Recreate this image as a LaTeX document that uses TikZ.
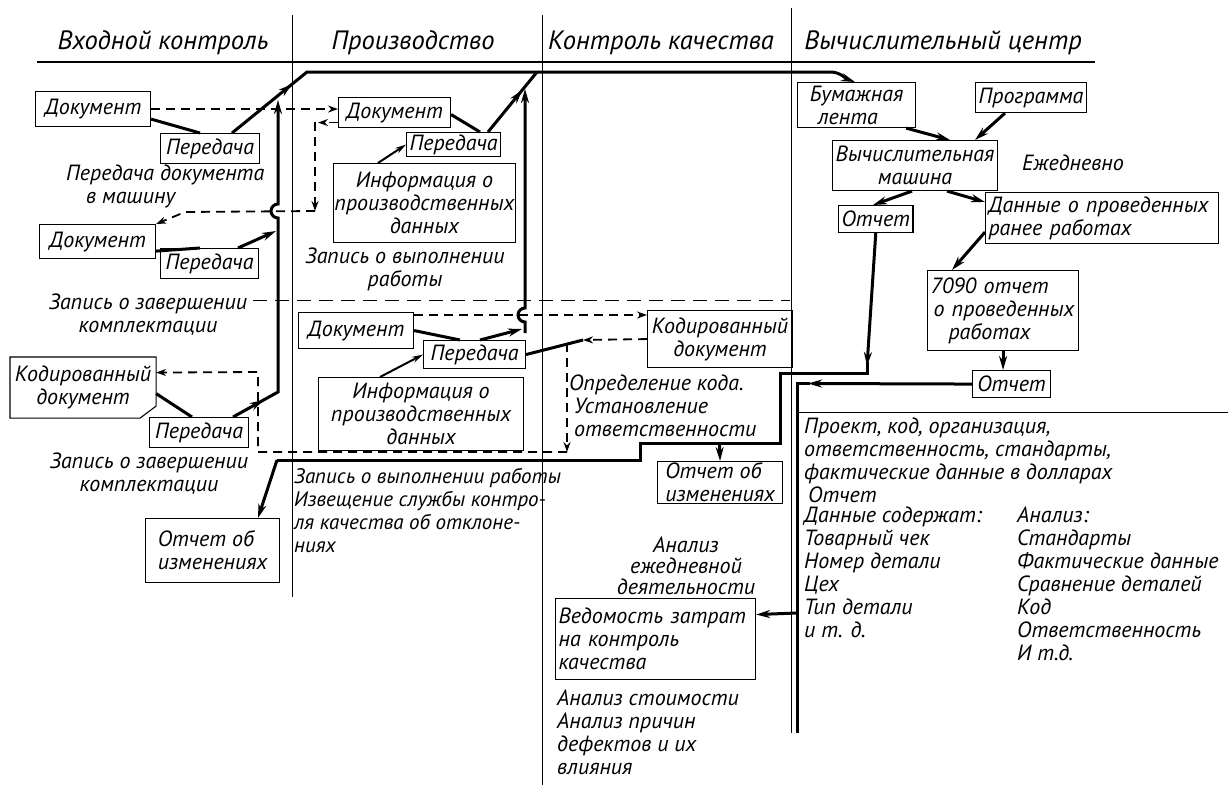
\documentclass[tikz,border=0pt]{standalone}
\usepackage{fontspec}
\setmainfont{PT Sans}
\usetikzlibrary{arrows.meta,calc,decorations.markings}
\newcommand{\bodyf}{\fontsize{22}{23}\selectfont\itshape}
\newcommand{\smallf}{\fontsize{21}{23}\selectfont\itshape}
\newcommand{\headf}{\fontsize{26.5}{28}\selectfont\itshape}
\tikzset{
  box/.style={draw, line width=1.1pt, inner xsep=3pt, inner ysep=1pt, font=\bodyf, align=center, anchor=north west},
  lbl/.style={inner sep=0pt, font=\bodyf, align=left},
  hd/.style={inner sep=0pt, font=\headf},
  thk/.style={line width=3pt},
  arr/.style={-{Stealth[length=14pt,width=8pt]}},
  arrs/.style={-{Stealth[length=11pt,width=6pt]}},
  dsh/.style={line width=1.8pt, dash pattern=on 9pt off 6pt},
  darr/.style={-{Stealth[open,length=10pt,width=7pt]}},
  midarr/.style={postaction={decorate},decoration={markings,mark=at position #1 with {\arrow{Stealth[length=14pt,width=8pt]}}}},
}
\begin{document}
\begin{tikzpicture}[x=1pt,y=-1pt]
\useasboundingbox (0,0) rectangle (1228,796);
\fill[white] (0,0) rectangle (1228,796);

% headers and dividers
\node[hd] (h1) at (163,43) {Входной контроль};
\node[hd] (h2) at (413,43) {Производство};
\node[hd] (h3) at (661,43) {Контроль качества};
\node[hd] (h4) at (943,43) {Вычислительный центр};
\draw[line width=1.2pt] (37,62) -- (1095,62);
\draw[line width=1pt] (292,15) -- (292,597);
\draw[line width=1pt] (542,15) -- (542,785);
\draw[line width=1pt] (791,8) -- (791,733);
\draw[line width=0.9pt, dash pattern=on 14pt off 8pt] (253,300) -- (790,300);
\draw[line width=1pt] (797,412) -- (1228,412);

% left column
\node[box, minimum width=115pt, minimum height=35pt] (doc1) at (35,91) {Документ};
\node[box, minimum width=99pt, minimum height=30pt] (per1) at (160,133) {Передача};
\node[lbl, anchor=north west] (lab1) at (66,165) {Передача документа\\\hspace*{20pt}в машину};
\node[box, minimum width=116pt, minimum height=34pt] (doc2) at (39,224) {Документ};
\node[box, minimum width=98pt, minimum height=30pt] (per2) at (160,248) {Передача};
\node[lbl, align=center] (lab2) at (148,315) {Запись о завершении\\комплектации};
\node[box, draw=none, minimum width=145pt, minimum height=60pt] (kdoc1) at (10,357) {Кодированный\\документ};
\draw[line width=1.1pt] (kdoc1.north west) -- (kdoc1.north east) -- ([yshift=12pt]kdoc1.south east) -- ([xshift=-16pt]kdoc1.south east) -- (kdoc1.south west) -- cycle;
\node[box, minimum width=99pt, minimum height=30pt] (per3) at (149,417) {Передача};
\node[lbl, align=center] (lab3) at (149,474) {Запись о завершении\\комплектации};
\node[box, align=left, minimum width=134pt, minimum height=64pt] (otch1) at (145,518) {Отчет об\\изменениях};

% production
\node[box, minimum width=112pt, minimum height=30pt] (pdoc1) at (338,97) {Документ};
\node[box, minimum width=92pt, minimum height=24pt] (pper1) at (406,132) {Передача};
\node[box, minimum width=180pt, minimum height=79pt, inner xsep=1pt] (pinf1) at (333,163) {Информация о\\производственных\\данных};
\node[lbl, align=center] (lab4) at (405,269) {Запись о выполнении\\работы};
\node[box, minimum width=115pt, minimum height=36pt] (pdoc2) at (298,312) {Документ};
\node[box, minimum width=102pt, minimum height=28pt] (pper2) at (423,340) {Передача};
\node[box, minimum width=205pt, minimum height=73pt] (pinf2) at (318,377) {Информация о\\производственных\\данных};
\node[lbl, font=\smallf, anchor=north west] (lab5) at (294,468) {Запись о выполнении работы\\Извещение службы контро-\\ля качества об отклоне-\\ниях};

% quality control
\node[box, minimum width=145pt, minimum height=57pt] (qkod) at (647,310) {Кодированный\\документ};
\node[lbl, anchor=north west] (lab6) at (569,375) {Определение кода.\\\hspace*{5pt}Установление\\\hspace*{5pt}ответственности};
\node[box, align=left, minimum width=125pt, minimum height=42pt] (qotch) at (657,461) {Отчет об\\изменениях};
\node[lbl, align=center, font=\fontsize{22}{21}\selectfont\itshape] (lab7) at (686,566) {Анализ\\ежедневной\\деятельности};
\node[box, align=left, text width=194pt, minimum height=81pt] (qved) at (555,598) {Ведомость затрат\\на контроль\\качества};
\node[lbl, anchor=north west] (lab8) at (557,690) {Анализ стоимости\\Анализ причин\\дефектов и их\\влияния};

% computing centre
\node[box, align=left, minimum width=118pt, minimum height=45pt] (bum) at (797,82) {Бумажная\\\hspace*{8pt}лента};
\node[box, minimum width=93pt, minimum height=30pt] (prog) at (975,82) {Программа};
\node[box, minimum width=158pt, minimum height=50pt] (vych) at (832,140) {Вычислительная\\машина};
\node[lbl, anchor=west] (lab9) at (1022,163) {Ежедневно};
\node[box, minimum width=58pt, minimum height=27pt] (otchu) at (838,205) {Отчет};
\node[box, align=left, text width=227pt, minimum height=51pt] (dann) at (985,192) {Данные о проведенных\\ранее работах};
\node[box, align=left, text width=145pt, minimum height=80pt] (r7090) at (927,270) {7090 отчет\\\hspace*{3pt}о проведенных\\\hspace*{18pt}работах};
\node[box, minimum width=78pt, minimum height=27pt] (otchl) at (972,370) {Отчет};
\node[lbl, anchor=north west] (lab10) at (804,418) {Проект, код, организация,\\ответственность, стандарты,\\фактические данные в долларах\\\hspace*{4pt}Отчет};
\node[lbl, anchor=north west] (lab11) at (804,507) {Данные содержат:\\Товарный чек\\Номер детали\\Цех\\Тип детали\\и т. д.};
\node[lbl, anchor=north west] (lab12) at (1017,507) {Анализ:\\Стандарты\\Фактические данные\\Сравнение деталей\\Код\\Ответственность\\И т.д.};

% coordinates
\coordinate (c1) at (307,72);
\coordinate (topR) at (537,72);
\coordinate (c2) at (830,72);
\coordinate (v1b) at (278,392);
\coordinate (J) at (583,340);

% thick connectors, left column
\draw[thk] ([yshift=8pt]doc1.south east) -- ([xshift=40pt]per1.north west);
\draw[thk, midarr=0.125] ([xshift=72pt]per1.north west) -- (c1) -- (c2);
\draw[thk, arr] (c2) to[out=0,in=160] ([xshift=58pt]bum.north west);
\draw[thk] ([yshift=8pt]doc2.south east) -- ([xshift=40pt]per2.north west);
\draw[thk, arr] ([xshift=78pt]per2.north west) -- (276,231);
\draw[thk] ([yshift=-6pt]kdoc1.east) -- ([xshift=43pt]per3.north west);
\draw[thk, arr, midarr=0.1] ([xshift=84pt]per3.north west) -- (v1b) -- (278,218) arc[start angle=270, end angle=90, radius=7pt] -- (278,100);

% thick connectors, production
\draw[thk] ([yshift=-2pt]pdoc1.east) -- ([xshift=74pt]pper1.north west);
\draw[thk, midarr=0.7] ([xshift=82pt]pper1.north west) -- (topR);
\draw[line width=2pt, arrs] ([xshift=45pt]pinf1.north west) -- (pper1.west);
\draw[thk] (pdoc2.east) -- ([xshift=37pt]pper2.north west);
\draw[thk, arr] ([xshift=57pt]pper2.north west) -- (522,329);
\draw[thk, arr] (525,333) -- (525,322) arc[start angle=270, end angle=90, radius=7pt] -- (525,89);
\draw[line width=2pt, arrs] ([xshift=62pt]pinf2.north west) -- (pper2.west);
\draw[thk] (pper2.east) -- (J);

% thick return path
\draw[thk, arr] (otchu.south) -- (867,366);
\draw[thk] (867,362) -- (867,373) -- (780,373) -- (780,443) -- (640,443) -- (640,460) -- (277,460);
\draw[thk, arr] (277,460) -- ([xshift=113pt]otch1.north west);
\draw[thk, arr] (719.5,443) -- (qotch.north);
\draw[thk, arr] (otchl.west) -- (808,383.5);
\draw[thk] (810,383.5) -- (797,383.5) -- (797,733);
\draw[thk, arr] (797,613) -- ([yshift=24.5pt]qved.east);

% computing centre arrows
\draw[thk, arr] ([xshift=-10pt]bum.south east) -- ([xshift=118pt]vych.north west);
\draw[thk, arr] ([xshift=30pt]prog.south west) -- ([xshift=143pt]vych.north west);
\draw[thk, arr] ([xshift=80pt]vych.south west) -- ([xshift=35pt]otchu.north west);
\draw[thk, arr] ([xshift=115pt]vych.south west) -- ([yshift=-10pt]dann.north west);
\draw[thk, arr] ([yshift=12pt]dann.south west) -- ([xshift=25pt]r7090.north west);
\draw[thk, arr] (r7090.south) -- (r7090.south |- otchl.north);

% dashed connectors
\draw[dsh, darr] (doc1.east) -- (doc1.east -| pdoc1.west);
\draw[dsh, darr] ([yshift=-10pt]pdoc1.west) -- ++(-20,0);
\draw[dsh, darr] (315,122) -- (315,211);
\draw[dsh, darr] (315,211) -- (185,212) -- (doc2.north east);
\draw[dsh, darr] ([yshift=-3pt]pdoc2.north east) -- ([yshift=-3pt]pdoc2.north east -| qkod.west);
\draw[dsh, darr] (qkod.west) -- (J);
\draw[dsh, darr] (567,343) -- (567,452);
\draw[dsh, darr] (567,452) -- (258,452) -- (258,372) -- ([yshift=15pt]kdoc1.east);
\end{tikzpicture}
\end{document}
